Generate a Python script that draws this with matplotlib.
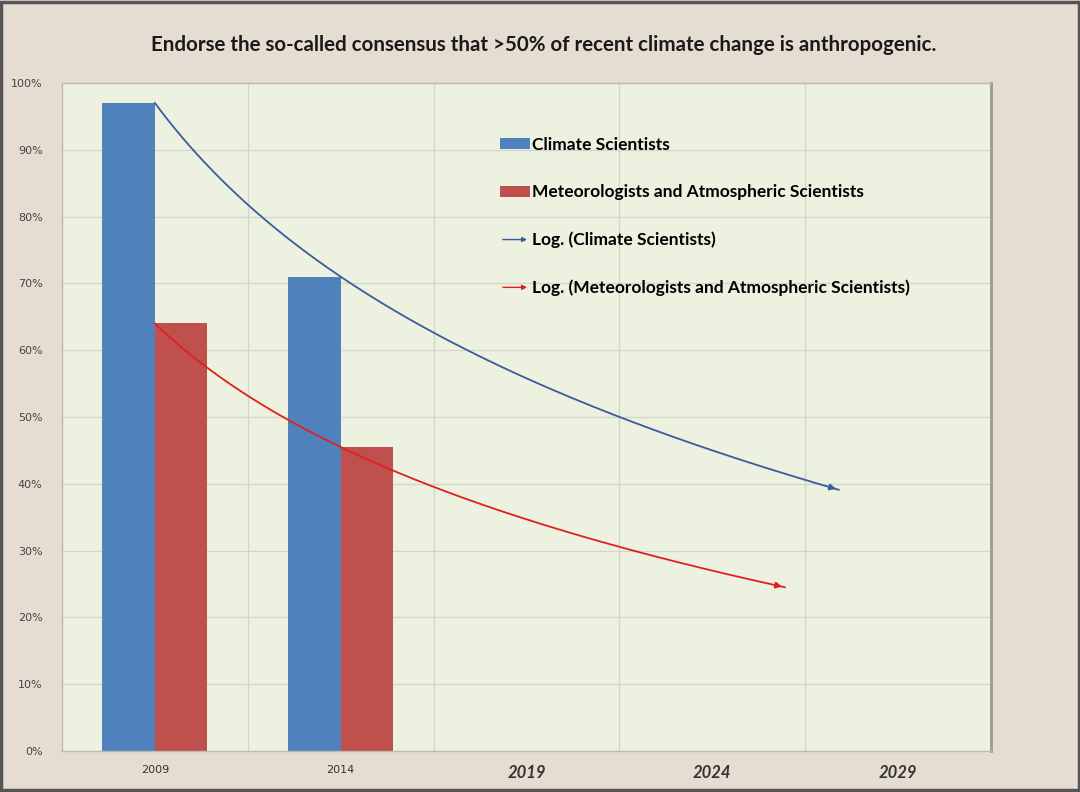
import matplotlib
matplotlib.use('Agg')
import matplotlib.pyplot as plt
import numpy as np
from matplotlib.patches import Patch, FancyArrowPatch
from matplotlib.legend_handler import HandlerBase
from matplotlib.lines import Line2D

# Data
years = ['2009', '2014', '2019', '2024', '2029']
climate = [97, 71]          # % Climate Scientists
meteo = [64, 45.5]          # % Meteorologists and Atmospheric Scientists
# how far each Excel log trendline is drawn (in Excel category units, 1 = 2009)
climate_trend_end = 4.68
meteo_trend_end = 4.39

title = 'Endorse the so-called consensus that >50% of recent climate change is anthropogenic.'
label_climate = 'Climate Scientists'
label_meteo = 'Meteorologists and Atmospheric Scientists'

bg = '#e5ddd2'
plot_bg = '#edf1e0'
blue = '#4f81bd'
red = '#c0504d'
blue_trend = '#3a5c9e'
red_trend = '#e0201c'
grid_col = '#d2d5c9'

plt.rcParams['font.family'] = ['Lato', 'DejaVu Sans']


class ArrowHandler(HandlerBase):
    def create_artists(self, legend, orig_handle, xdescent, ydescent,
                       width, height, fontsize, trans):
        arr = FancyArrowPatch((0, height / 2), (width, height / 2),
                              arrowstyle='-|>', mutation_scale=7,
                              color=orig_handle.get_color(), lw=1.0,
                              transform=trans)
        return [arr]


def log_trend(values, x_end):
    xs = np.arange(1, len(values) + 1)
    a, b = np.polyfit(np.log(xs), values, 1)
    xx = np.linspace(1, x_end, 200)
    return xx - 1, a * np.log(xx) + b


fig = plt.figure(figsize=(10.8, 7.92), dpi=100, facecolor=bg)
ax = fig.add_axes([62 / 1080, 41 / 792, 929 / 1080, 668 / 792])
ax.set_facecolor(plot_bg)

idx = np.arange(len(climate))
width = 0.283
ax.bar(idx - width / 2, climate, width, color=blue, zorder=2)
ax.bar(idx + width / 2, meteo, width, color=red, zorder=2)

# Log trendlines with arrow ends
tx, ty = log_trend(climate, climate_trend_end)
l1, = ax.plot(tx, ty, color=blue_trend, lw=1.3, zorder=3)
ax.annotate('', xy=(tx[-1], ty[-1]), xytext=(tx[-4], ty[-4]),
            arrowprops=dict(arrowstyle='-|>', color=blue_trend, lw=1.3, mutation_scale=9))
tx, ty = log_trend(meteo, meteo_trend_end)
l2, = ax.plot(tx, ty, color=red_trend, lw=1.3, zorder=3)
ax.annotate('', xy=(tx[-1], ty[-1]), xytext=(tx[-4], ty[-4]),
            arrowprops=dict(arrowstyle='-|>', color=red_trend, lw=1.3, mutation_scale=9))

ax.set_xlim(-0.5, len(years) - 0.5)
ax.set_ylim(0, 100)
ax.set_yticks(np.arange(0, 101, 10))
ax.set_yticklabels([str(v) + '%' for v in range(0, 101, 10)],
                   fontsize=8, color='#444444', family='DejaVu Sans')
ax.set_xticks(np.arange(len(years)))
ax.set_xticklabels(years)
for i, t in enumerate(ax.get_xticklabels()):
    if i < 2:
        t.set_fontsize(8)
        t.set_family('DejaVu Sans')
        t.set_color('#333333')
    else:
        t.set_fontsize(12)
        t.set_fontweight('bold')
        t.set_fontstyle('italic')
        t.set_color('#333333')
ax.tick_params(axis='y', length=0, pad=14)
ax.tick_params(axis='x', length=0, pad=10)

# grid
for y in range(10, 100, 10):
    ax.axhline(y, color=grid_col, lw=0.9, zorder=1)
ax.set_xticks(np.arange(0.5, len(years) - 0.5, 1), minor=True)
ax.grid(True, which='minor', axis='x', color=grid_col, lw=0.9, zorder=1)
ax.tick_params(axis='x', which='minor', length=0)
for s in ['top', 'left', 'bottom']:
    ax.spines[s].set_color('#b8bcb0')
    ax.spines[s].set_linewidth(1.0)
ax.spines['right'].set_color('#9a9a96')
ax.spines['right'].set_linewidth(2.0)

handles = [Patch(facecolor=blue), Patch(facecolor=red), l1, l2]
labels = [label_climate, label_meteo, 'Log. (' + label_climate + ')', 'Log. (' + label_meteo + ')']
leg = ax.legend(handles, labels, loc='upper left',
                bbox_to_anchor=(500 / 1080, 1 - 137 / 792),
                bbox_transform=fig.transFigure, frameon=False,
                prop={'size': 12.5, 'weight': 'bold'},
                handlelength=1.72, handleheight=0.6, handletextpad=0.15,
                labelspacing=1.8, borderpad=0, borderaxespad=0,
                handler_map={Line2D: ArrowHandler()})

fig.text(544 / 1080, 1 - 45 / 792, title, ha='center', va='center',
         fontsize=14.8, fontweight='bold', color='#1a1a1a')

# outer frame
fig.patches.append(plt.Rectangle((0.001, 0.002), 0.998, 0.996, transform=fig.transFigure,
                                 fill=False, edgecolor='#555555', lw=2.5))

fig.savefig('out.png', dpi=100, facecolor=bg)
